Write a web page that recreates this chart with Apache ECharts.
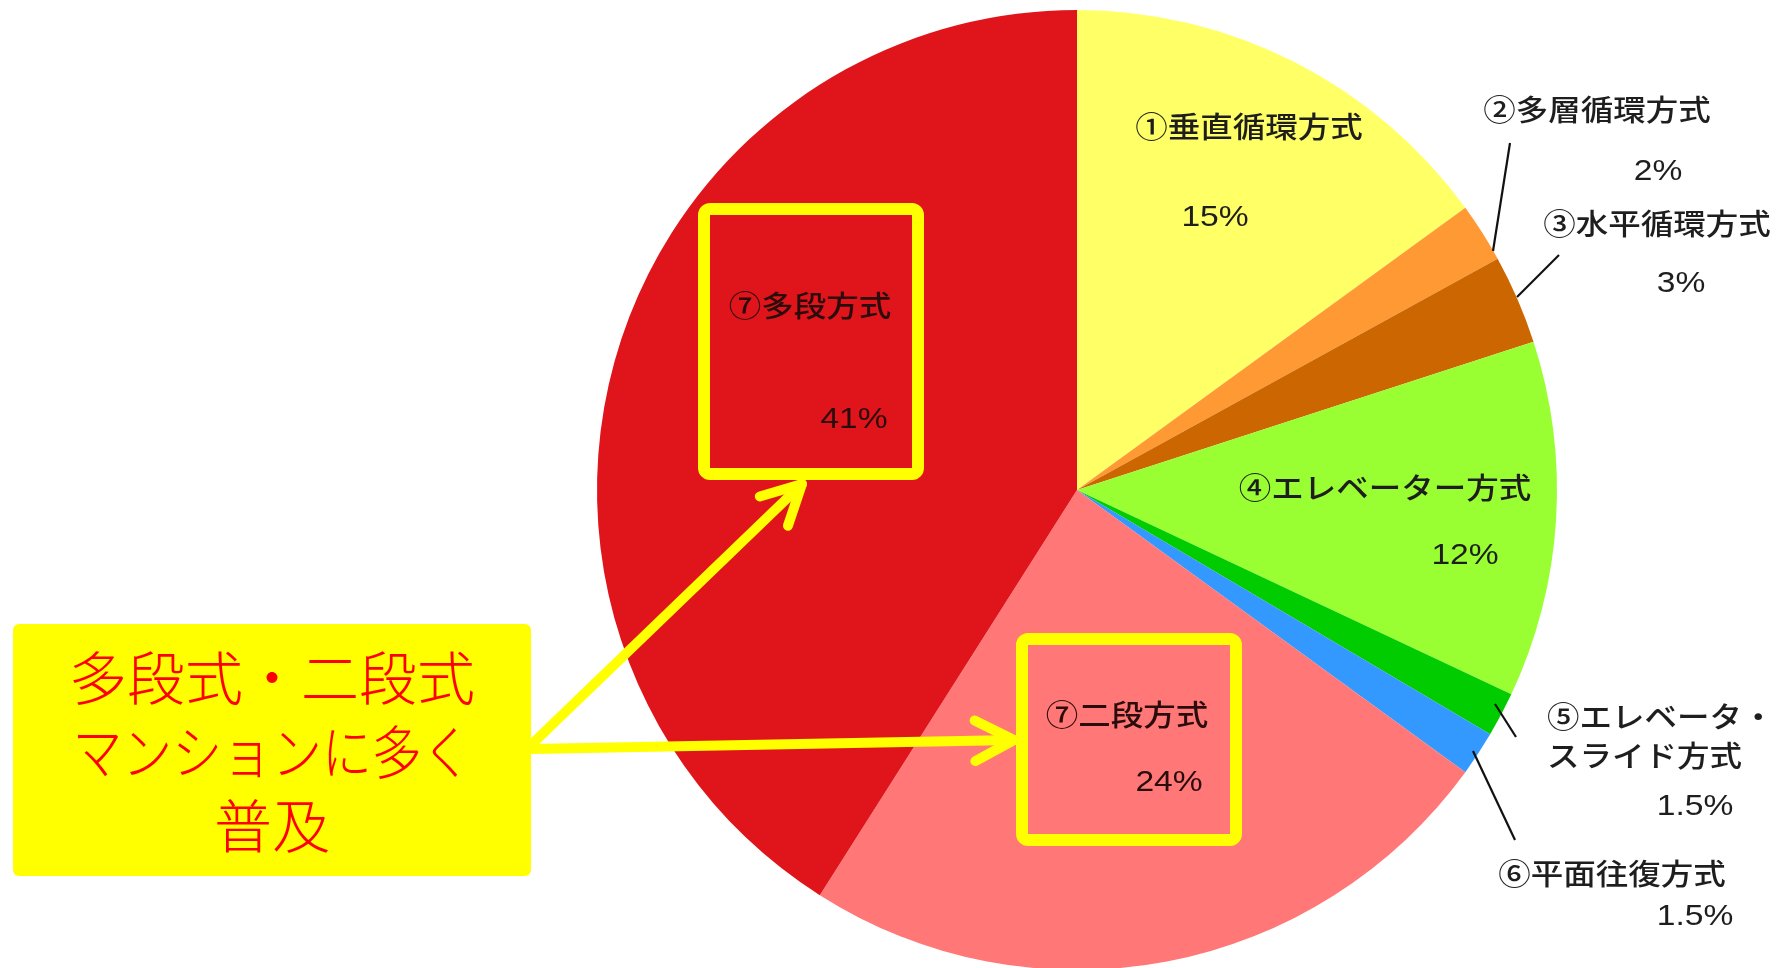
<!DOCTYPE html>
<html>
<head>
<meta charset="utf-8">
<script src="https://cdn.jsdelivr.net/npm/echarts@6/dist/echarts.min.js"></script>
<style>
html,body{margin:0;padding:0;background:#fff;}
#chart{width:1780px;height:968px;}
</style>
</head>
<body>
<div id="chart"></div>
<script>
// ---- data ----
const categories = ['①垂直循環方式','②多層循環方式','③水平循環方式','④エレベーター方式','⑤エレベータ・\nスライド方式','⑥平面往復方式','⑦二段方式','⑦多段方式'];
const shares = [15, 2, 3, 12, 1.5, 1.5, 24, 41];
const calloutLines = ['多段式・二段式', 'マンションに多く', '普及'];

// ---- style ----
const sliceColors = ['#ffff66','#ff9933','#cc6600','#99ff33','#00cc00','#3399ff','#ff7777','#e0151b'];
const CX = 1077, CY = 490, R = 480;
const nameFont = '"Noto Sans CJK JP", sans-serif';
const numFont = '"Liberation Sans", Arial, sans-serif';

// label layout (text anchor positions, per category index)
const nameLayout = [
  {x:1249, y:127, align:'center'},
  {x:1597, y:110, align:'center'},
  {x:1657, y:224, align:'center'},
  {x:1385, y:488, align:'center'},
  {x:1547, y:736, align:'left', lh:39},
  {x:1612, y:874, align:'center'},
  {x:1127, y:715, align:'center'},
  {x:810,  y:306, align:'center'}
];
const valueLayout = [
  {x:1215, y:218}, {x:1658, y:172}, {x:1681, y:284}, {x:1465, y:556},
  {x:1695, y:807}, {x:1695, y:917}, {x:1169, y:783}, {x:854, y:420}
];
const leaderLines = {
  1: [[1510,143],[1493,251]],
  2: [[1559,255],[1517,297]],
  4: [[1495,704],[1516,737]],
  5: [[1473,751],[1515,840]]
};

const graphics = [];
categories.forEach((name, i) => {
  const nl = nameLayout[i];
  const txtColor = (i >= 6) ? '#2a0c0c' : '#1e1e1e';
  graphics.push({
    type:'text', x:nl.x, y:nl.y, z:10, scaleX:1.12,
    style:{text:name, fill:txtColor, font:'500 29px ' + nameFont,
      textAlign:nl.align, textVerticalAlign:'middle', lineHeight:nl.lh || 34}
  });
  const vl = valueLayout[i];
  graphics.push({
    type:'text', x:vl.x, y:vl.y, z:10, scaleX:1.12,
    style:{text:shares[i] + '%', fill:txtColor, font:'30px ' + numFont,
      textAlign:'center', textVerticalAlign:'middle'}
  });
  if (leaderLines[i]) {
    graphics.push({type:'polyline', z:10, shape:{points:leaderLines[i]},
      style:{stroke:'#111', lineWidth:2.2, fill:null}});
  }
});

// highlight boxes
const Y = '#ffff00';
graphics.push({type:'rect', z:20, shape:{x:704, y:209, width:214, height:265, r:6},
  style:{fill:null, stroke:Y, lineWidth:12}});
graphics.push({type:'rect', z:20, shape:{x:1022, y:639, width:214, height:201, r:6},
  style:{fill:null, stroke:Y, lineWidth:12}});

// arrows
function arrow(x0, y0, x1, y1) {
  const a = Math.atan2(y1 - y0, x1 - x0);
  const L = 44, w = 0.48;
  const p1 = [x1 - L*Math.cos(a - w), y1 - L*Math.sin(a - w)];
  const p2 = [x1 - L*Math.cos(a + w), y1 - L*Math.sin(a + w)];
  graphics.push({type:'polyline', z:20, shape:{points:[[x0,y0],[x1,y1]]},
    style:{stroke:Y, lineWidth:10, lineCap:'round', fill:null}});
  graphics.push({type:'polyline', z:20, shape:{points:[p1,[x1,y1],p2]},
    style:{stroke:Y, lineWidth:10, lineCap:'round', lineJoin:'round', fill:null}});
}
arrow(531, 745, 802, 484);
arrow(531, 749, 1014, 740);

// callout box
graphics.push({type:'rect', z:30, shape:{x:13, y:624, width:518, height:252, r:6},
  style:{fill:Y, stroke:null}});
const calloutScale = [1.0, 0.86, 1.0];
calloutLines.forEach((t, k) => {
  graphics.push({type:'text', z:31, x:272, y:678 + k*74, scaleX:calloutScale[k],
    style:{text:t, fill:'#ff0000', font:'300 58px ' + nameFont,
      textAlign:'center', textVerticalAlign:'middle'}});
});

const chart = echarts.init(document.getElementById('chart'), null, {renderer:'canvas'});
chart.setOption({
  animation:false,
  backgroundColor:'#ffffff',
  series:[{
    type:'pie',
    center:[CX, CY],
    radius:[0, R],
    startAngle:90,
    clockwise:true,
    label:{show:false},
    labelLine:{show:false},
    emphasis:{disabled:true},
    itemStyle:{borderWidth:0},
    data: categories.map((c, i) => ({name:c, value:shares[i], itemStyle:{color:sliceColors[i]}}))
  }],
  graphic: graphics
});
</script>
</body>
</html>
